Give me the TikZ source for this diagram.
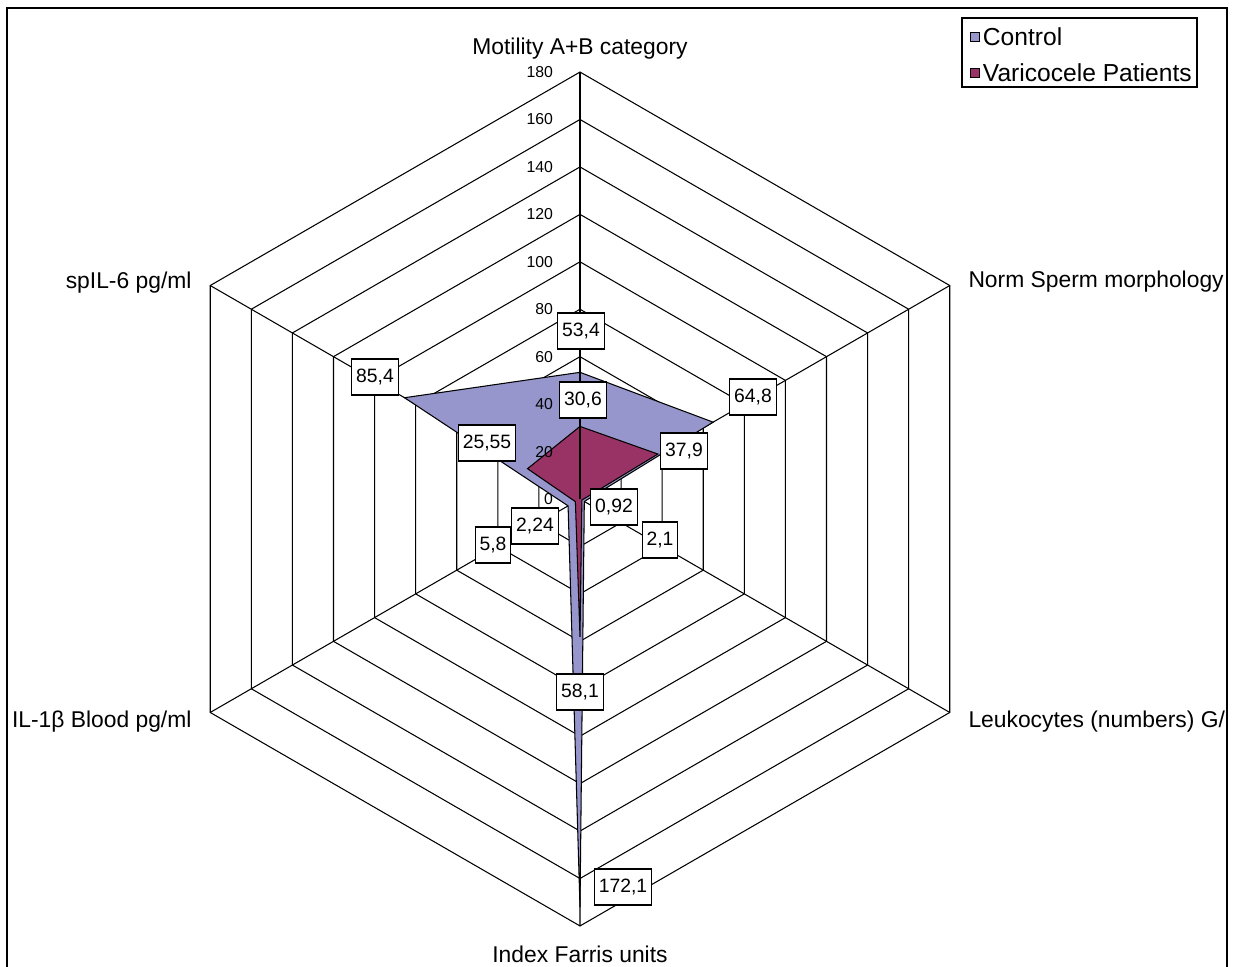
\documentclass[tikz,border=0pt]{standalone}
\usepackage{fontspec}
\setmainfont{Liberation Sans}
\usetikzlibrary{positioning}
\definecolor{ctrlblue}{RGB}{150,150,204}
\definecolor{varired}{RGB}{153,51,102}
\newcommand{\rs}{0.04744}% cm per unit of the value axis
\tikzset{
  grid/.style={line width=0.6pt},
  axlabel/.style={font=\fontsize{13}{15}\selectfont},
  ticklabel/.style={anchor=east,inner sep=1pt,font=\fontsize{9}{11}\selectfont},
  vallabel/.style={draw,fill=white,line width=0.6pt,inner xsep=2.5pt,inner ysep=0pt,minimum height=0.72cm,font=\fontsize{11}{13}\selectfont},
  legkey/.style={draw,line width=0.5pt,minimum size=0.18cm,inner sep=0pt},
  legtext/.style={inner xsep=1.5pt,font=\fontsize{14}{16}\selectfont}
}
\begin{document}
\begin{tikzpicture}
\useasboundingbox(-11.6,9.98)rectangle(13.1,-9.36);
\begin{scope}
\clip(-11.46,9.82)rectangle(12.94,-9.8);
\coordinate(O)at(0,0);
\coordinate[label={[axlabel,label distance=0.13cm]above:Motility A+B category}](M)at(90:8.54);
\coordinate[label={[axlabel,label distance=0.25cm,yshift=0.07cm]right:Norm Sperm morphology}](N)at(30:8.54);
\coordinate[label={[axlabel,label distance=0.25cm,yshift=-0.19cm]right:Leukocytes (numbers) G/l}](L)at(-30:8.54);
\coordinate[label={[axlabel,label distance=0.28cm]below:Index Farris units}](F)at(-90:8.54);
\coordinate[label={[axlabel,label distance=0.25cm,yshift=-0.19cm]left:IL-1β Blood pg/ml}](B)at(-150:8.54);
\coordinate[label={[axlabel,label distance=0.25cm,yshift=0.05cm]left:spIL-6 pg/ml}](S)at(150:8.54);
% rings and spokes
\foreach \v [evaluate=\v as \r using \v*\rs] in {20,40,...,180}
  \draw[grid](90:\r)--(30:\r)--(-30:\r)--(-90:\r)--(-150:\r)--(150:\r)--cycle;
\draw[grid](O)--(N) (O)--(L) (O)--(F) (O)--(B) (O)--(S);
% data series
\draw[fill=ctrlblue,line width=0.6pt](90:{53.4*\rs})--(30:{64.8*\rs})--(-30:{2.1*\rs})--(-90:{172.1*\rs})--(-150:{5.8*\rs})--(150:{85.4*\rs})--cycle;
\draw[fill=varired,line width=0.6pt](90:{30.6*\rs})--(30:{37.9*\rs})--(-30:{0.92*\rs})--(-90:{58.1*\rs})--(-150:{2.24*\rs})--(150:{25.55*\rs})--cycle;
\draw[grid](O)--(M);
\foreach \v in {0,20,...,180}
  \node[ticklabel](t\v)at(-0.5,\v*\rs){\v};
% value labels
\node[vallabel](cmot)at(0.02,3.36){53,4};
\node[vallabel](vmot)at(0.06,1.98){30,6};
\node[vallabel](cnor)at(3.46,2.04){64,8};
\node[vallabel](vnor)at(2.08,0.96){37,9};
\node[vallabel](vleu)at(0.68,-0.16){0,92};
\node[vallabel](cleu)at(1.60,-0.82){2,1};
\node[vallabel](vbld)at(-0.90,-0.54){2,24};
\node[vallabel](cbld)at(-1.74,-0.92){5,8};
\node[vallabel](vspl)at(-1.86,1.12){25,55};
\node[vallabel](cspl)at(-4.10,2.44){85,4};
\node[vallabel](vfar)at(0.0,-3.86){58,1};
\node[vallabel](cfar)at(0.86,-7.76){172,1};
% legend
\draw[line width=0.6pt](7.64,9.62)rectangle(12.34,8.24);
\node[legkey,fill=ctrlblue](kc)at(7.9,9.25){};
\node[legtext,right=0pt of kc](lc){Control};
\node[legkey,fill=varired](kv)at(7.9,8.53){};
\node[legtext,right=0pt of kv](lv){Varicocele Patients};
\end{scope}
\draw[line width=1.1pt](-11.46,9.82)rectangle(12.94,-9.8);
\end{tikzpicture}
\end{document}
